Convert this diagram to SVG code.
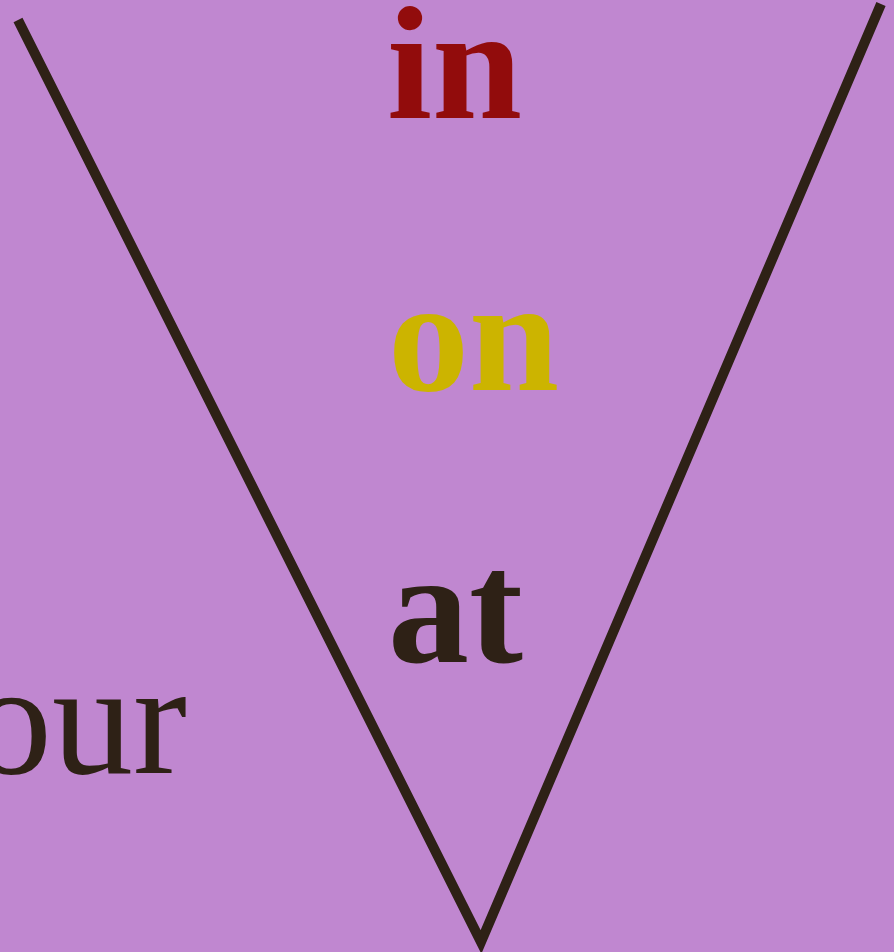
<svg xmlns="http://www.w3.org/2000/svg" width="894" height="952" viewBox="0 0 894 952">
<style>
.w{font-family:"Liberation Serif","Times New Roman",serif;font-size:162px}
.b{font-weight:bold}
</style>
<rect width="894" height="952" fill="#C087D0"/>
<g id="connectors">
<polyline points="18,20 481,942 881,4" fill="none" stroke="#2E2116" stroke-width="10" stroke-linejoin="miter" stroke-miterlimit="10"/>
</g>
<g id="in"><text class="w b" x="387" y="118" fill="#920C0C">in</text></g>
<g id="on"><text class="w b" x="388" y="390" fill="#CCB400">on</text></g>
<g id="at"><text class="w b" x="388" y="662" fill="#2E2116">at</text></g>
<g id="our"><text class="w" x="-29" y="773" fill="#2E2116">our</text></g>
</svg>
